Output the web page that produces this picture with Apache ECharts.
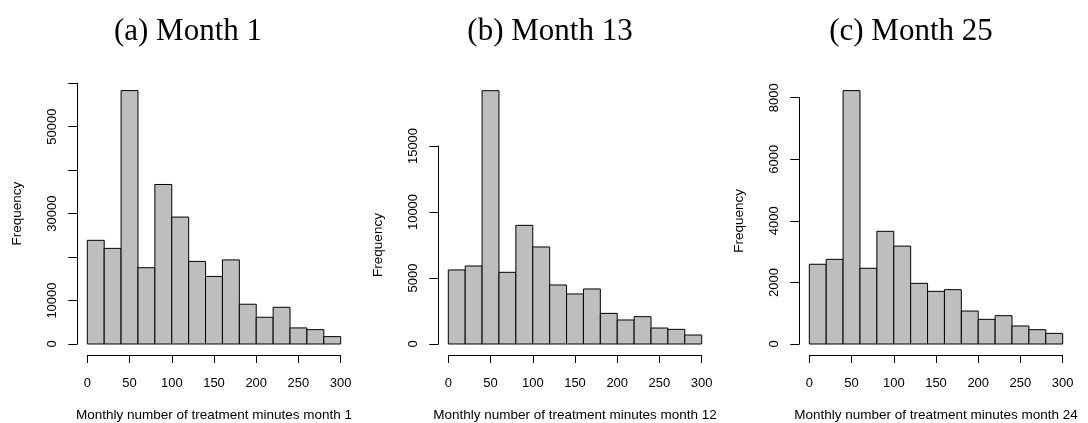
<!DOCTYPE html>
<html>
<head>
<meta charset="utf-8">
<script src="https://cdn.jsdelivr.net/npm/echarts@6/dist/echarts.min.js"></script>
<style>
  html, body { margin: 0; padding: 0; background: #fff; }
  #chart { width: 1088px; height: 423px; }
</style>
</head>
<body>
<div id="chart"></div>
<script>
(function() {

    // histogram bins: 15 bins of 20 minutes each
    const binStarts = [0, 20, 40, 60, 80, 100, 120, 140, 160, 180, 200, 220, 240, 260, 280];
    const binWidth = 20;

    // frequencies
    const month1 = [23850, 22000, 58300, 17550, 36700, 29200, 19000, 15550, 19350, 9150, 6150, 8450, 3700, 3300, 1700];
    const month13 = [5610, 5910, 19190, 5430, 8990, 7350, 4470, 3790, 4170, 2320, 1820, 2070, 1210, 1110, 680];
    const month25 = [2590, 2750, 8230, 2460, 3660, 3180, 1970, 1710, 1765, 1070, 800, 920, 585, 465, 345];

    const titles = ['(a) Month 1', '(b) Month 13', '(c) Month 25'];
    const xNames = [
        'Monthly number of treatment minutes month 1',
        'Monthly number of treatment minutes month 12',
        'Monthly number of treatment minutes month 24'
    ];
    const xTicks = [0, 50, 100, 150, 200, 250, 300];
    const yMax = [60000, 15000, 8000];
    const yStep = [10000, 5000, 2000];
    const yLabels = [[0, 10000, 30000, 50000], [0, 5000, 10000, 15000], [0, 2000, 4000, 6000, 8000]];

    const chart = echarts.init(document.getElementById('chart'));

    const panels = [
        { left: 87.3, top: 83.2, height: 260.8, titleX: 183 },
        { left: 448.3, top: 146, height: 198, titleX: 545 },
        { left: 809.3, top: 97.7, height: 246.3, titleX: 906 }
    ];
    const plotWidth = 253.4;
    const labelFont = { fontFamily: 'Liberation Sans', fontSize: 13, color: '#000' };
    const nameFont = { fontFamily: 'Liberation Sans', fontSize: 13.5, color: '#000' };

    function histSerie(counts, idx) {
        return {
            type: 'custom',
            xAxisIndex: idx,
            yAxisIndex: idx,
            clip: false,
            data: counts.map((c, i) => [binStarts[i], binStarts[i] + binWidth, c]),
            renderItem: function(params, api) {
                const p0 = api.coord([api.value(0), 0]);
                const p1 = api.coord([api.value(1), api.value(2)]);
                return {
                    type: 'rect',
                    shape: { x: p0[0], y: p1[1], width: p1[0] - p0[0], height: p0[1] - p1[1] },
                    style: { fill: '#BEBEBE', stroke: '#000', lineWidth: 1 }
                };
            }
        };
    }

    let option = {
        animation: false,
        backgroundColor: '#fff',
        title: [],
        grid: [],
        xAxis: [],
        yAxis: [],
        series: []
    };

    const allCounts = [month1, month13, month25];
    panels.forEach((p, i) => {
        const ticks = [];
        for (let v = 0; v <= yMax[i]; v += yStep[i]) ticks.push(v);

        option.title.push({
            text: titles[i],
            left: p.titleX,
            top: 11,
            textAlign: 'center',
            textStyle: { fontFamily: 'Liberation Serif', fontSize: 31, fontWeight: 'normal', color: '#000' }
        });
        option.grid.push({
            left: p.left,
            top: p.top,
            width: plotWidth,
            height: p.height,
            outerBoundsMode: 'none'
        });
        option.xAxis.push({
            type: 'value',
            gridIndex: i,
            min: 0,
            max: 300,
            interval: 50,
            offset: 11,
            name: xNames[i],
            nameLocation: 'middle',
            nameGap: 53,
            nameTextStyle: nameFont,
            axisLine: { show: true, onZero: false, lineStyle: { color: '#000', width: 1 } },
            axisTick: { show: true, length: 8, customValues: xTicks, lineStyle: { color: '#000' } },
            axisLabel: Object.assign({ margin: 22, customValues: xTicks, formatter: v => String(v) }, labelFont),
            splitLine: { show: false }
        });
        option.yAxis.push({
            type: 'value',
            gridIndex: i,
            min: 0,
            max: yMax[i],
            interval: yStep[i],
            offset: 10,
            name: 'Frequency',
            nameLocation: 'middle',
            nameGap: 53,
            nameRotate: 90,
            nameTextStyle: nameFont,
            axisLine: { show: true, onZero: false, lineStyle: { color: '#000', width: 1 } },
            axisTick: { show: true, length: 9, customValues: ticks, lineStyle: { color: '#000' } },
            axisLabel: Object.assign({ margin: 18, rotate: 90, customValues: yLabels[i], formatter: v => String(v) }, labelFont),
            splitLine: { show: false }
        });
        option.series.push(histSerie(allCounts[i], i));
    });

    chart.setOption(option);
})();
</script>
</body>
</html>
